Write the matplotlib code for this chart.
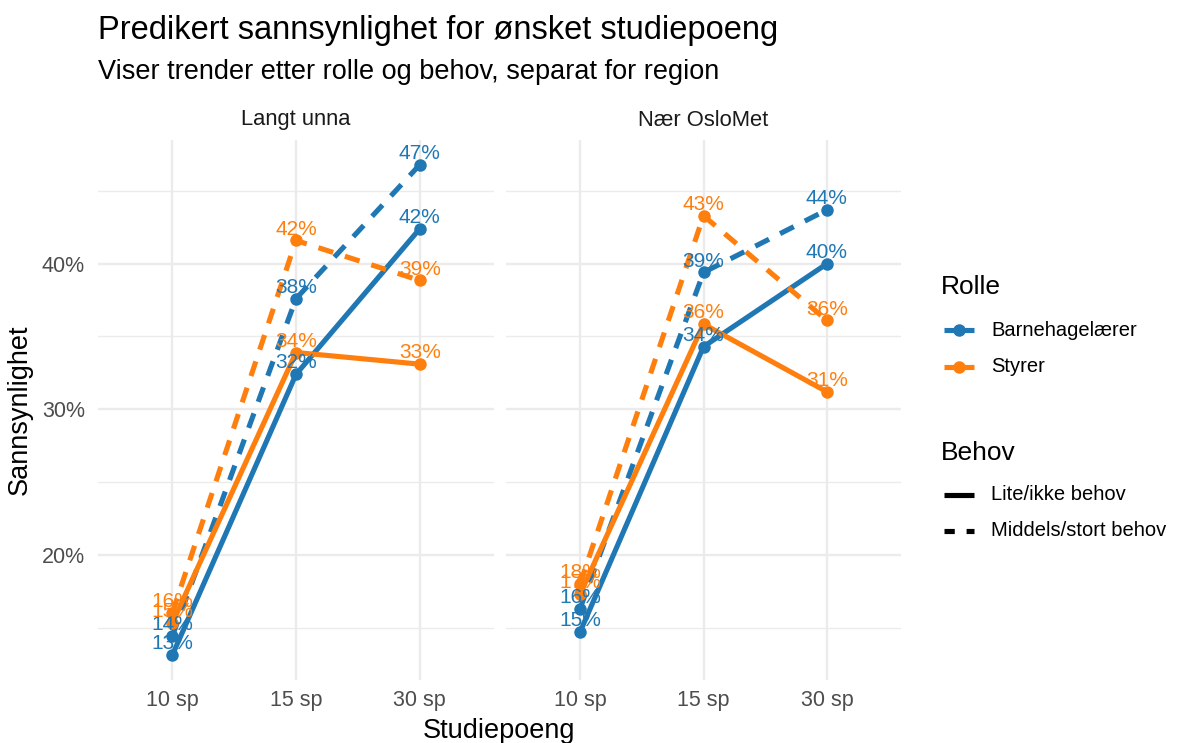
import numpy as np
import matplotlib
matplotlib.use("Agg")
import matplotlib.pyplot as plt
from matplotlib.lines import Line2D
from matplotlib.ticker import FixedLocator, FuncFormatter

plt.rcParams['font.family'] = ['Liberation Sans', 'DejaVu Sans']

# ---------------- data ----------------
regions = ["Langt unna", "Nær OsloMet"]
studiepoeng = ["10 sp", "15 sp", "30 sp"]
roller = ["Barnehagelærer", "Styrer"]
behov = ["Lite/ikke behov", "Middels/stort behov"]

# predicted probability (percent), per region
langt_barn_lite = [13.1, 32.4, 42.4]
langt_barn_middels = [14.4, 37.6, 46.8]
langt_styrer_lite = [15.3, 33.9, 33.1]
langt_styrer_middels = [16.0, 41.6, 38.85]

naer_barn_lite = [14.7, 34.3, 40.0]
naer_barn_middels = [16.3, 39.4, 43.7]
naer_styrer_lite = [17.3, 35.85, 31.2]
naer_styrer_middels = [18.0, 43.3, 36.1]

data = {
    "Langt unna": {
        ("Barnehagelærer", "Lite/ikke behov"): langt_barn_lite,
        ("Barnehagelærer", "Middels/stort behov"): langt_barn_middels,
        ("Styrer", "Lite/ikke behov"): langt_styrer_lite,
        ("Styrer", "Middels/stort behov"): langt_styrer_middels,
    },
    "Nær OsloMet": {
        ("Barnehagelærer", "Lite/ikke behov"): naer_barn_lite,
        ("Barnehagelærer", "Middels/stort behov"): naer_barn_middels,
        ("Styrer", "Lite/ikke behov"): naer_styrer_lite,
        ("Styrer", "Middels/stort behov"): naer_styrer_middels,
    },
}

y_major = [20, 30, 40]
y_minor = [15, 25, 35, 45]

# ---------------- style ----------------
colors = {"Barnehagelærer": "#1F77B4", "Styrer": "#FF7F0E"}
DASH = (3.0, 2.4)
LW = 3.7
MS = 9.0
W, H = 1181, 743

fig = plt.figure(figsize=(W / 100, H / 100), dpi=100)
fig.patch.set_facecolor("white")

def px_box(x0, y0, x1, y1):
    return [x0 / W, 1 - y1 / H, (x1 - x0) / W, (y1 - y0) / H]

panel_boxes = [px_box(98, 140, 494, 680), px_box(506, 140, 901, 680)]

def fmt_pct(v):
    return f"{int(np.floor(v + 0.5))}%"

xs = np.arange(len(studiepoeng))
for i, reg in enumerate(regions):
    ax = fig.add_axes(panel_boxes[i])
    ax.set_xlim(-0.6, len(studiepoeng) - 1 + 0.6)
    ax.set_ylim(11.4, 48.5)
    for s in ax.spines.values():
        s.set_visible(False)
    ax.yaxis.set_major_locator(FixedLocator(y_major))
    ax.yaxis.set_minor_locator(FixedLocator(y_minor))
    ax.set_xticks(xs)
    ax.set_xticklabels(studiepoeng)
    ax.yaxis.set_major_formatter(FuncFormatter(lambda v, p: f"{v:.0f}%"))
    ax.tick_params(axis="both", which="both", length=0, labelsize=15.5,
                   labelcolor="#4D4D4D")
    ax.tick_params(axis="y", pad=9.4)
    ax.tick_params(axis="x", pad=7)
    if i == 1:
        ax.tick_params(axis="y", labelleft=False)
    ax.grid(True, which="major", axis="both", color="#EBEBEB", lw=1.7, zorder=0)
    ax.grid(True, which="minor", axis="y", color="#EBEBEB", lw=1.0, zorder=0)
    ax.set_axisbelow(True)

    groups = data[reg]
    # lines
    for (rolle, bh), vals in groups.items():
        ln, = ax.plot(xs, vals, color=colors[rolle], lw=LW, zorder=2,
                      solid_capstyle="butt", dash_capstyle="butt")
        if bh.startswith("Middels"):
            ln.set_dashes(DASH)
    # points
    for (rolle, bh), vals in groups.items():
        ax.plot(xs, vals, "o", color=colors[rolle], ms=MS, zorder=3, mec="none")
    # labels
    for (rolle, bh), vals in groups.items():
        for x, v in zip(xs, vals):
            ax.annotate(fmt_pct(v), (x, v), xytext=(0, 8.2), textcoords="offset points",
                        ha="center", va="center", fontsize=15,
                        color=colors[rolle], zorder=4)
    # strip title
    bx = panel_boxes[i]
    fig.text(bx[0] + bx[2] / 2, 1 - 120 / H, reg, ha="center", va="center",
             fontsize=15.8, color="#1A1A1A")

# titles
fig.text(98 / W, 1 - 30 / H, "Predikert sannsynlighet for ønsket studiepoeng",
         ha="left", va="center", fontsize=23.5, color="black")
fig.text(98 / W, 1 - 72 / H, "Viser trender etter rolle og behov, separat for region",
         ha="left", va="center", fontsize=19.5, color="black")
fig.text(20 / W, 1 - 410 / H, "Sannsynlighet", rotation=90, ha="center",
         va="center", fontsize=19.5, color="black")
fig.text(499.5 / W, 1 - 731 / H, "Studiepoeng", ha="center", va="center",
         fontsize=19.5, color="black")

# ---------------- legends ----------------
def fx(x):
    return x / W

def fy(y):
    return 1 - y / H

fig.text(fx(941), fy(287), "Rolle", ha="left", va="center", fontsize=19, color="black")
for rolle, yy in zip(roller, [330, 366.5]):
    fig.add_artist(Line2D([fx(944), fx(974)], [fy(yy), fy(yy)], color=colors[rolle],
                          lw=LW, transform=fig.transFigure, solid_capstyle="butt"))
    fig.add_artist(Line2D([fx(959)], [fy(yy)], marker="o", ms=MS, color=colors[rolle],
                          mec="none", transform=fig.transFigure))
    fig.text(fx(991), fy(yy), rolle, ha="left", va="center", fontsize=14.5, color="black")

fig.text(fx(941), fy(453), "Behov", ha="left", va="center", fontsize=19, color="black")
for bh, yy in zip(behov, [495, 531]):
    ln = Line2D([fx(944), fx(974)], [fy(yy), fy(yy)], color="black", lw=LW,
                transform=fig.transFigure, solid_capstyle="butt", dash_capstyle="butt")
    if bh.startswith("Middels"):
        ln.set_dashes((2.0, 2.3))
    fig.add_artist(ln)
    fig.text(fx(991), fy(yy), bh, ha="left", va="center", fontsize=14.5, color="black")

fig.savefig("out.png", dpi=100, facecolor="white")
